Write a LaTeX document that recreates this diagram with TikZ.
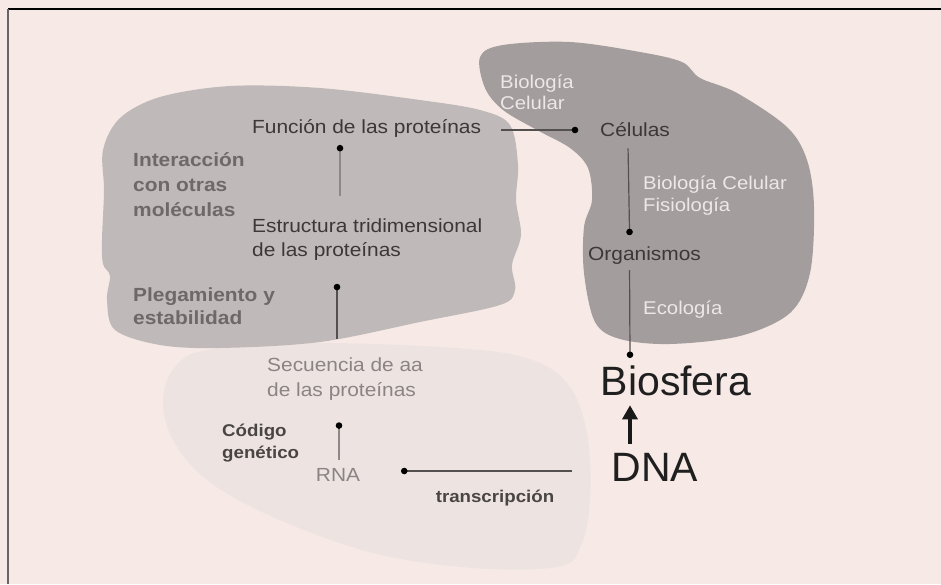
\documentclass[tikz,border=0pt]{standalone}
\usepackage{fontspec}
\setmainfont{Liberation Sans}[FakeStretch=1.1]
\newfontfamily\bigfont{Liberation Sans}
\usetikzlibrary{arrows.meta}
\definecolor{bg}{HTML}{F7EAE6}
\definecolor{blobL}{HTML}{BFBAB9}
\definecolor{blobR}{HTML}{A39D9D}
\definecolor{blobB}{HTML}{EDE4E1}
\definecolor{txtdark}{HTML}{3C3838}
\definecolor{txtmid}{HTML}{6E6868}
\definecolor{txtlight}{HTML}{8C8484}
\definecolor{txtbold}{HTML}{4A4545}
\definecolor{txtwhite}{HTML}{ECE8E8}
\definecolor{lnlight}{HTML}{8E8888}
\definecolor{lndark}{HTML}{555050}
\tikzset{
  lbl/.style={inner sep=0pt, align=left, font=\fontsize{19}{24}\selectfont, text=txtdark},
  boldlbl/.style={inner sep=0pt, align=left, font=\bfseries\fontsize{19}{25}\selectfont, text=txtmid},
  smallbold/.style={inner sep=0pt, align=left, font=\bfseries\fontsize{17}{22}\selectfont, text=txtbold},
  whitelbl/.style={inner sep=0pt, align=left, font=\fontsize{18.5}{22}\selectfont, text=txtwhite},
  biglbl/.style={inner sep=0pt, font=\bigfont\fontsize{41}{45}\selectfont, text=black!88},
  connlight/.style={draw=lnlight, line width=1.2pt, -{Circle[length=6.5pt,fill=black,black]}, shorten >=-3.25pt},
  conndark/.style={draw=lndark, line width=1.2pt, -{Circle[length=6.5pt,fill=black,black]}, shorten >=-3.25pt},
  thickarrow/.style={draw=black!90, line width=3.2pt, -{Triangle[width=15pt,length=14pt]}},
  blob/.style={draw=none}
}
\begin{document}
\begin{tikzpicture}[x=1pt,y=-1pt]
\useasboundingbox (0,0) rectangle (941,584);
\fill[bg] (0,0) rectangle (941,584);
% frame lines
\draw[black, line width=1.5pt] (8,9) -- (941,9);
\draw[black!60, line width=2.5pt] (8,9) -- (8,584);
% bottom light blob
\fill[blobB] plot[smooth cycle, tension=0.6] coordinates {
 (163,400) (175,367) (207,350) (307,343) (440,347) (523,357) (567,383)
 (587,433) (590,500) (580,548) (557,567) (473,568) (373,553) (273,517)
 (207,480) (173,440)};
% left grey blob
\fill[blobL] plot[smooth cycle, tension=0.55] coordinates {
 (103,150) (120,118) (160,97) (230,86) (320,88) (420,100) (480,110)
 (510,125) (518,165) (516,200) (521,235) (512,265) (515,290) (500,305)
 (420,322) (320,342) (220,348) (160,345) (115,330) (107,300) (110,276)
 (103,264) (102,240) (104,190)};
% right dark blob
\fill[blobR] plot[smooth cycle, tension=0.55] coordinates {
 (480,57) (503,45) (570,42) (640,52) (682,62) (700,78) (737,93)
 (787,127) (807,160) (814,207) (810,273) (790,313) (740,336) (670,344)
 (620,339) (595,322) (584,273) (584,227) (592,200) (588,168) (570,148)
 (537,130) (503,110) (485,88)};

% labels
\node[lbl, anchor=west] (func) at (252,128) {Función de las proteínas};
\node[lbl, anchor=west] (estr) at (252,240) {Estructura tridimensional\\de las proteínas};
\node[boldlbl, anchor=west] (inter) at (133,185) {Interacción\\con otras\\moléculas};
\node[boldlbl, anchor=west, font=\bfseries\fontsize{19}{23}\selectfont] (pleg) at (133,306) {Plegamiento y\\estabilidad};
\node[lbl, anchor=west, text=txtlight, font=\fontsize{19}{25}\selectfont] (sec) at (267,379) {Secuencia de aa\\de las proteínas};
\node[smallbold, anchor=west] (cod) at (222,443) {Código\\genético};
\node[lbl, text=txtlight] (rna) at (338,475) {RNA};
\node[smallbold] (trans) at (495,498) {transcripción};
\node[lbl, anchor=west] (cel) at (600,130) {Células};
\node[lbl, anchor=west] (org) at (588,256) {Organismos};
\node[whitelbl, anchor=west, font=\fontsize{18.5}{21}\selectfont] (bc1) at (500,92) {Biología\\Celular};
\node[whitelbl, anchor=west] (bc2) at (643,196) {Biología Celular\\Fisiología};
\node[whitelbl, anchor=west] (eco) at (643,310) {Ecología};
\node[biglbl] (bio) at (676,381) {Biosfera};
\node[biglbl] (dna) at (655,467) {DNA};

% connectors
\draw[connlight] ([shift={(88,-23)}]estr.north west) -- ([shift={(88,11)}]func.south west);
\draw[conndark] ([shift={(70,-18)}]sec.north west) -- ([shift={(85,26)}]estr.south west);
\draw[connlight] ([shift={(1,-8)}]rna.north) -- ([shift={(72,25)}]sec.south west);
\draw[conndark] ([shift={(-40,4)}]dna.west) -- ([shift={(44,-4)}]rna.east);
\draw[conndark] ([shift={(20,2)}]func.east) -- ([shift={(-25,0)}]cel.west);
\draw[conndark] ([shift={(-7,11)}]cel.south) -- ([shift={(-15,-15)}]org.north);
\draw[conndark] ([shift={(-15,5)}]org.south) -- ([shift={(-46,-11)}]bio.north);
\draw[thickarrow] ([shift={(-25,-9)}]dna.north) -- ([shift={(-46,9)}]bio.south);
\end{tikzpicture}
\end{document}
